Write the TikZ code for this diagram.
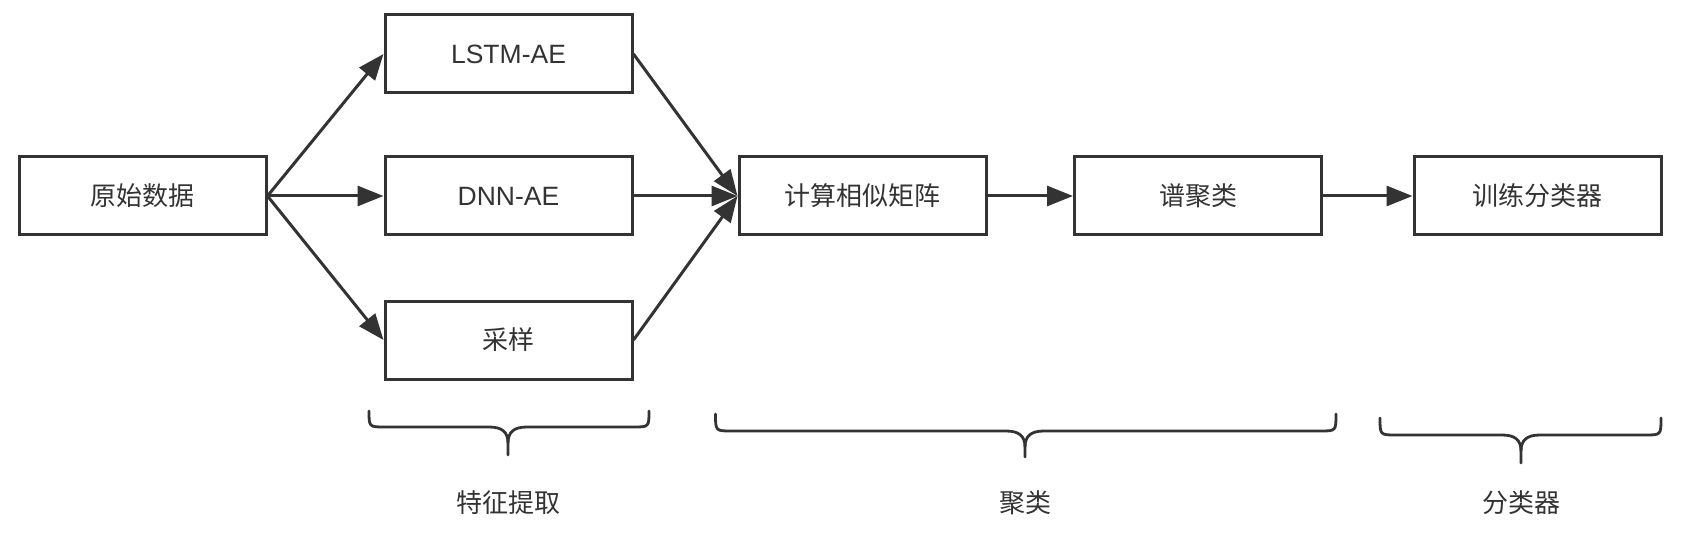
\documentclass[tikz,border=0pt]{standalone}
\usepackage{fontspec}
\setmainfont{Liberation Sans}
\newfontfamily\cjk{Noto Sans CJK SC}
\usetikzlibrary{arrows.meta}
\definecolor{ink}{HTML}{333333}
\begin{document}
\begin{tikzpicture}[x=1pt,y=-1pt,
  box/.style={draw=ink,line width=3pt,minimum width=247pt,minimum height=78pt,inner sep=0pt,
    font=\fontsize{26.5}{30}\selectfont,text=ink},
  zh/.style={font=\cjk\fontsize{26}{30}\selectfont,text=ink},
  arr/.style={draw=ink,line width=3pt,-{Triangle[length=26pt,width=20pt]}},
  brace/.style={draw=ink,line width=2.8pt,line cap=round}]
\useasboundingbox (0,0) rectangle (1700,548);
\node[box,zh] (raw) at (142.5,196) {原始数据};
\node[box] (lstm) at (508.5,54) {LSTM-AE};
\node[box] (dnn) at (508.5,196) {DNN-AE};
\node[box,zh] (samp) at (508.5,340) {采样};
\node[box,zh] (sim) at (862.5,196) {计算相似矩阵};
\node[box,zh] (spec) at (1198,196) {谱聚类};
\node[box,zh] (train) at (1537.5,196) {训练分类器};
\draw[arr] (raw.east) -- (lstm.west);
\draw[arr] (raw.east) -- (dnn.west);
\draw[arr] (raw.east) -- (samp.west);
\draw[arr] (lstm.east) -- (sim.west);
\draw[arr] (dnn.east) -- (sim.west);
\draw[arr] (samp.east) -- (sim.west);
\draw[arr] (sim.east) -- (spec.west);
\draw[arr] (spec.east) -- (train.west);
% braces
\foreach \xl/\xr/\xc/\yt/\yl/\yb in {369/649/508/411/427/455, 715.5/1336/1025/414/431/457, 1380/1661/1521/418/435/463}{
  \draw[brace] (\xl,\yt) .. controls (\xl,\yl) .. (\xl+16,\yl) -- (\xc-19,\yl) .. controls (\xc-6,\yl) and (\xc,\yl+5) .. (\xc,\yl+16) -- (\xc,\yb);
  \draw[brace] (\xr,\yt) .. controls (\xr,\yl) .. (\xr-16,\yl) -- (\xc+19,\yl) .. controls (\xc+6,\yl) and (\xc,\yl+5) .. (\xc,\yl+16);
}
\node[zh] (l1) at (508,503) {特征提取};
\node[zh] (l2) at (1025,503) {聚类};
\node[zh] (l3) at (1521,503) {分类器};
\end{tikzpicture}
\end{document}
